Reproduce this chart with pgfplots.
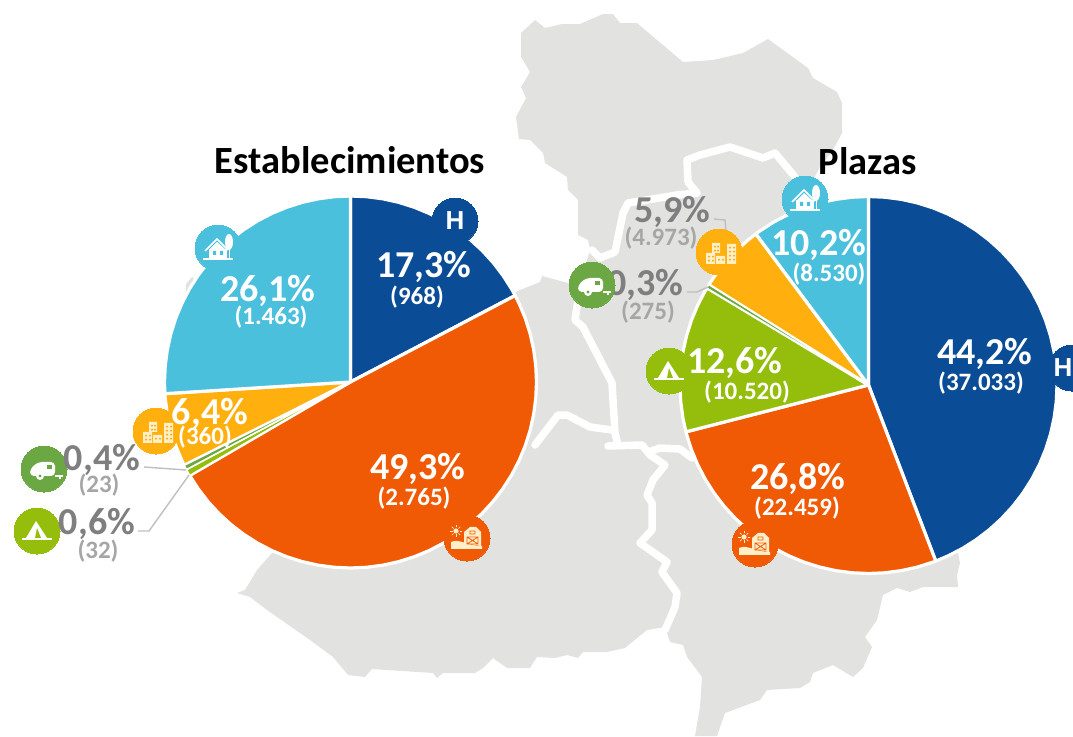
\documentclass[border=0pt]{standalone}
\usepackage{pgfplots}
\pgfplotsset{compat=1.18}
\usepgfplotslibrary{polar}
\usepackage{fontspec}
\setmainfont{Carlito}
\newfontfamily\hfont{Liberation Sans}

\definecolor{cblue}{HTML}{0A4C96}
\definecolor{corange}{HTML}{F05A05}
\definecolor{clight}{HTML}{4BC0DC}
\definecolor{cyellow}{HTML}{FFB00F}
\definecolor{cgreen}{HTML}{95BE0C}
\definecolor{cdark}{HTML}{6BA844}
\definecolor{cmap}{HTML}{E2E2E1}
\definecolor{cbig}{HTML}{7F7F7F}
\definecolor{csmall}{HTML}{A6A6A6}
\definecolor{cline}{HTML}{BFBFBF}
\definecolor{ccream}{HTML}{FFEFC8}

% whole page in pixel coordinates
\pgfplotsset{
  px/.style={at={(0,0)},anchor=south west,scale only axis,width=1073pt,height=736pt,
    xmin=0,xmax=1073,ymin=0,ymax=736,y dir=reverse,hide axis,clip=false},
  pie/.style={scale only axis,width=#1,height=#1,xmin=0,xmax=360,ymin=0,ymax=1,
    hide axis,clip=false,anchor=center},
  slice/.style={fill=#1,draw=white,line width=3.2pt,line join=round,no markers},
  dot/.style={only marks,mark=*,mark size=23pt,color=#1,mark options={fill=#1,draw=#1,line width=0pt}},
  road/.style={white,line width=7.5pt,line join=round,line cap=round,no markers},
  lead/.style={cline,line width=1.4pt,no markers},
}
\newcommand{\bg}[3]{\node[text=#3,yshift=-2.5pt,font=\fontsize{38}{38}\selectfont\bfseries] at (axis cs:#1) {#2};}
\newcommand{\sm}[3]{\node[text=#3,yshift=-2pt,font=\fontsize{25}{25}\selectfont\bfseries] at (axis cs:#1) {#2};}

% icons, in pixels round the centre of their circle
\newcommand{\icon}[3]{\begin{scope}[shift={(#1pt,736pt-#2pt)},x=1pt,y=-1pt]#3\end{scope}}
\newcommand{\house}{
  \fill[white] (-9,1) rectangle (9,10);
  \draw[white,line width=1.5pt] (-13,3) -- (-1,-9) -- (10,2);
  \fill[white] (-8,1) -- (-1,-6) -- (7,1) -- cycle;
  \fill[clight] (-5,3) rectangle (-2,7) (2,3) rectangle (5,7);
  \draw[white,line width=1.5pt] (-15,11) -- (15,11);
  \fill[white] (11,-6) ellipse (4 and 8);
  \draw[white,line width=1pt] (11,0) -- (11,10);}
\newcommand{\towers}{
  \fill[ccream] (-7,-9) rectangle (1,1) (-13,1) rectangle (-4,12) (-3,4) rectangle (6,12) (8,-8) rectangle (17,12);
  \foreach \y in {-6,-2} {\fill[cyellow] (-5,\y) rectangle (-3,\y+1.5) (-2,\y) rectangle (0,\y+1.5);}
  \foreach \y in {4,8} {\fill[cyellow] (-11,\y) rectangle (-9,\y+1.5) (-7,\y) rectangle (-5,\y+1.5);}
  \fill[cyellow] (-1,7) rectangle (1,8.5) (3,7) rectangle (5,8.5);
  \foreach \y in {-5,-1,3,7} {\fill[cyellow] (10,\y) rectangle (12,\y+1.5) (14,\y) rectangle (16,\y+1.5);}}
\newcommand{\trailer}{
  \fill[white,rounded corners=4pt] (-14,7) -- (-14,0) -- (-6,-7) -- (11,-7) -- (11,7) -- cycle;
  \fill[cdark] (3,-4) rectangle (8,0);
  \fill[white] (-4,7) circle (4);
  \fill[cdark] (-4,7) circle (1.6);
  \draw[white,line width=1.4pt] (11,7) -- (19,7) (16,7) -- (16,10);}
\newcommand{\tent}[1]{
  \fill[white] (-1,-10) -- (-11,7) -- (10,7) -- cycle;
  \fill[#1] (0,-3) -- (-2,7) -- (4,7) -- cycle;
  \draw[white,line width=1.8pt] (-15,8) -- (15,8);}
\newcommand{\farm}{
  \fill[ccream] (-16,11) -- (-16,4) .. controls (-8,0) and (0,8) .. (15,8) -- (15,11) -- cycle;
  \fill[ccream] (-3,5) -- (-3,-6) -- (3,-11) -- (9,-11) -- (14,-6) -- (14,8) -- cycle;
  \draw[corange,line width=.8pt] (0,-1) rectangle (11,6) (0,-1) -- (11,6) (11,-1) -- (0,6) (3,-7) rectangle (8,-4);
  \fill[ccream] (-11,-7) circle (2.6);
  \foreach \a in {0,45,...,315} {\draw[ccream,line width=.7pt] (-11,-7) ++(\a:3.5) -- ++(\a:2.5);}}

\begin{document}
\begin{tikzpicture}
\useasboundingbox (0,0) rectangle (1073pt,736pt);
\clip (0,0) rectangle (1073pt,736pt);

% map behind the pies
\begin{axis}[px]
\addplot[fill=cmap,draw=none,no markers] coordinates {
  (521,33)(535,20)(545,28)(562,24)(580,24)(603,14)(613,14)(620,23)(637,23)(683,62)
  (713,60)(743,53)(768,39)(808,68)(813,78)(837,92)(842,103)(842,133)(833,150)(820,167)
  (813,180)(830,210)(958,553)(960,563)(957,575)(958,587)(923,587)(910,592)(897,588)(883,595)
  (877,620)(865,637)(872,647)(863,668)(853,677)(833,665)(813,673)(810,682)(800,688)(767,690)
  (760,700)(725,713)(717,736)(695,736)(700,707)(702,677)(687,657)(683,645)(670,642)(665,627)
  (647,630)(625,648)(607,652)(583,652)(578,658)(567,655)(555,658)(537,657)(530,668)(507,668)
  (493,658)(483,668)(475,673)(443,673)(437,678)(433,673)(372,669)(365,677)(348,675)(333,657)
  (310,640)(267,610)(250,597)(237,593)(245,590)(257,570)(272,553)(350,400)(515,292)(540,282)
  (542,276)(568,283)(578,290)(590,250)(588,240)(578,235)(578,200)(568,190)(567,177)(545,163)
  (543,153)(530,140)(519,139)(516,117)(526,98)(521,87)(530,72)(521,57)(521,33)};
\addplot[fill=cmap,draw=none,no markers] coordinates {(192,277)(195,280)(190,290)(186,296)(186,284)(192,277)};
\addplot[road] coordinates {(795,177)(775,153)(763,158)(730,147)(700,155)(687,160)(688,182)(697,193)(677,195)(628,203)(623,213)(615,252)(600,258)(592,250)};
\addplot[road] coordinates {(578,300)(575,320)(583,327)(612,383)(615,433)(618,445)};
\addplot[road] coordinates {(612,430)(590,427)(567,415)(558,415)(535,445)};
\addplot[road] coordinates {(608,446)(642,445)(650,455)(665,465)(653,480)(647,495)(652,503)(652,530)(640,543)(667,562)(662,572)(677,593)(675,607)(665,630)};
\addplot[road] coordinates {(648,452)(660,448)(680,449)(692,458)};
\end{axis}

% Establecimientos: angles from the shares 17,3 49,3 0,6 0,4 6,4 26,1
\begin{polaraxis}[pie=372pt,at={(350.5pt,354pt)}]
\addplot[slice=cblue] coordinates {(90,0)(90,1)(85,1)(80,1)(75,1)(70,1)(65,1)(60,1)(55,1)(50,1)(45,1)(40,1)(35,1)(30,1)(27.7,1)(27.7,0)(90,0)};
\addplot[slice=corange] coordinates {(27.7,0)(27.7,1)(25,1)(20,1)(15,1)(10,1)(5,1)(0,1)(-5,1)(-10,1)(-15,1)(-20,1)(-25,1)(-30,1)(-35,1)(-40,1)(-45,1)(-50,1)(-55,1)(-60,1)(-65,1)(-70,1)(-75,1)(-80,1)(-85,1)(-90,1)(-95,1)(-100,1)(-105,1)(-110,1)(-115,1)(-120,1)(-125,1)(-130,1)(-135,1)(-140,1)(-145,1)(-149.8,1)(-149.8,0)(27.7,0)};
\addplot[slice=cyellow] coordinates {(-153.4,0)(-153.4,1)(-155,1)(-160,1)(-165,1)(-170,1)(-175,1)(-176.4,1)(-176.4,0)(-153.4,0)};
\addplot[slice=clight] coordinates {(-176.4,0)(-176.4,1)(-180,1)(-185,1)(-190,1)(-195,1)(-200,1)(-205,1)(-210,1)(-215,1)(-220,1)(-225,1)(-230,1)(-235,1)(-240,1)(-245,1)(-250,1)(-255,1)(-260,1)(-265,1)(-270,1)(-270,0)(-176.4,0)};
\addplot[slice=cgreen,line width=1.6pt] coordinates {(-149.8,0)(-149.8,1)(-151.9,1)(-151.9,0)(-149.8,0)};
\addplot[slice=cdark,line width=1.6pt] coordinates {(-151.9,0)(-151.9,1)(-153.4,1)(-153.4,0)(-151.9,0)};
\end{polaraxis}

% Plazas: angles from the shares 44,2 26,8 12,6 0,3 5,9 10,2
\begin{polaraxis}[pie=377pt,at={(868.5pt,351pt)}]
\addplot[slice=cblue] coordinates {(90,0)(90,1)(85,1)(80,1)(75,1)(70,1)(65,1)(60,1)(55,1)(50,1)(45,1)(40,1)(35,1)(30,1)(25,1)(20,1)(15,1)(10,1)(5,1)(0,1)(-5,1)(-10,1)(-15,1)(-20,1)(-25,1)(-30,1)(-35,1)(-40,1)(-45,1)(-50,1)(-55,1)(-60,1)(-65,1)(-69.1,1)(-69.1,0)(90,0)};
\addplot[slice=corange] coordinates {(-69.1,0)(-69.1,1)(-70,1)(-75,1)(-80,1)(-85,1)(-90,1)(-95,1)(-100,1)(-105,1)(-110,1)(-115,1)(-120,1)(-125,1)(-130,1)(-135,1)(-140,1)(-145,1)(-150,1)(-155,1)(-160,1)(-165,1)(-165.6,1)(-165.6,0)(-69.1,0)};
\addplot[slice=cgreen] coordinates {(-165.6,0)(-165.6,1)(-170,1)(-175,1)(-180,1)(-185,1)(-190,1)(-195,1)(-200,1)(-205,1)(-210,1)(-211,1)(-211,0)(-165.6,0)};
\addplot[slice=cyellow] coordinates {(-212.1,0)(-212.1,1)(-215,1)(-220,1)(-225,1)(-230,1)(-233.3,1)(-233.3,0)(-212.1,0)};
\addplot[slice=clight] coordinates {(-233.3,0)(-233.3,1)(-235,1)(-240,1)(-245,1)(-250,1)(-255,1)(-260,1)(-265,1)(-270,1)(-270,0)(-233.3,0)};
\addplot[slice=cdark,line width=1pt] coordinates {(-211,0)(-211,1)(-212.1,1)(-212.1,0)(-211,0)};
\end{polaraxis}

% leader lines and circles
\begin{axis}[px]
\addplot[lead] coordinates {(144,467)(186,470)};
\addplot[lead] coordinates {(138,531)(149,531)(189,475)};
\addplot[lead] coordinates {(714,219)(725,220)(726,232)};
\addplot[lead] coordinates {(687,292)(697,292)(708,287)};
\addplot[dot=cblue] coordinates {(455,221)(1072,368)};
\addplot[dot=clight] coordinates {(218,248)(805,199)};
\addplot[dot=cyellow] coordinates {(156,431)(719,252)};
\addplot[dot=cdark] coordinates {(44,469)};
\addplot[dot=cgreen] coordinates {(37,531)(669,371)};
\addplot[dot=corange] coordinates {(467,538)(755,544)};
\end{axis}

% labels
\begin{axis}[px]
\node[font=\fontsize{38.5}{38.5}\selectfont\bfseries] at (axis cs:350,160) {Establecimientos};
\node[font=\fontsize{38.5}{38.5}\selectfont\bfseries] at (axis cs:868,161) {Plazas};
\node[text=white,font=\hfont\fontsize{26}{26}\selectfont\bfseries] at (axis cs:455,221) {H};
\node[text=white,font=\hfont\fontsize{26}{26}\selectfont\bfseries] at (axis cs:1063,368) {H};
\bg{424,264}{17,3\%}{white}
\sm{417,295}{(968)}{white}
\bg{268,288}{26,1\%}{white}
\sm{271,315}{(1.463)}{white}
\bg{210,411}{6,4\%}{white}
\sm{205,435}{(360)}{white}
\bg{418,466}{49,3\%}{white}
\sm{414,496}{(2.765)}{white}
\bg{102,457}{0,4\%}{cbig}
\sm{99,483}{(23)}{csmall}
\bg{97,521}{0,6\%}{cbig}
\sm{98,549}{(32)}{csmall}
\bg{985,351}{44,2\%}{white}
\sm{981,381}{(37.033)}{white}
\bg{798,476}{26,8\%}{white}
\sm{797,506}{(22.459)}{white}
\bg{735,360}{12,6\%}{white}
\sm{747,390}{(10.520)}{white}
\bg{819,242}{10,2\%}{white}
\sm{829,272}{(8.530)}{white}
\bg{672,209}{5,9\%}{cbig}
\sm{661,236}{(4.973)}{csmall}
\bg{645,282}{0,3\%}{cbig}
\sm{648,310}{(275)}{csmall}
% this circle lies over its label
\addplot[dot=cdark] coordinates {(592,285)};
\end{axis}

\icon{218}{248}{\house}
\icon{805}{199}{\house}
\icon{156}{431}{\towers}
\icon{719}{252}{\towers}
\icon{44}{469}{\trailer}
\icon{592}{285}{\trailer}
\icon{37}{531}{\tent{cgreen}}
\icon{669}{371}{\tent{cgreen}}
\icon{467}{538}{\farm}
\icon{755}{544}{\farm}
\end{tikzpicture}
\end{document}
